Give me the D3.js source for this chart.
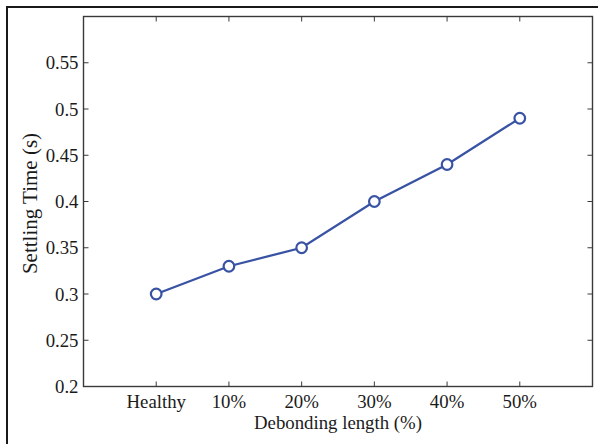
<!DOCTYPE html>
<html><head><meta charset="utf-8">
<script src="https://cdn.jsdelivr.net/npm/d3@7"></script>
<style>body{margin:0;background:#fff}svg{display:block}</style>
</head><body>
<svg id="c" width="598" height="444"></svg>
<script>
const categories = ["Healthy","10%","20%","30%","40%","50%"];
const settlingTime = [0.30, 0.33, 0.35, 0.40, 0.44, 0.49];
const yTicks = [0.2,0.25,0.3,0.35,0.4,0.45,0.5,0.55];
const yLabels = ["0.2","0.25","0.3","0.35","0.4","0.45","0.5","0.55"];
const xLabel = "Debonding length (%)";
const yLabel = "Settling Time (s)";

const svg = d3.select("#c");
const L=83.5, R=592.5, T=16.5, B=386.5;
const font = "'Liberation Serif','Times New Roman',serif";
const fs = 18.8;
const axisCol = "#3a3a3a";
const lineCol = "#3953a4";

// outer frame (top and left)
svg.append("path").attr("d","M7,444 V7 H598").attr("fill","none").attr("stroke","#1a1a1a").attr("stroke-width",2);

const x = d3.scaleLinear().domain([0, categories.length+1]).range([L,R]);
const y = d3.scaleLinear().domain([0.2,0.6]).range([B,T]);

const g = svg.append("g");
g.append("rect").attr("x",L).attr("y",T).attr("width",R-L).attr("height",B-T)
 .attr("fill","none").attr("stroke",axisCol).attr("stroke-width",1.4);

const tl = 5;
categories.forEach((c,i)=>{
  const xx = x(i+1);
  g.append("line").attr("x1",xx).attr("x2",xx).attr("y1",B).attr("y2",B-tl).attr("stroke",axisCol).attr("stroke-width",1);
  g.append("line").attr("x1",xx).attr("x2",xx).attr("y1",T).attr("y2",T+tl).attr("stroke",axisCol).attr("stroke-width",1);
  g.append("text").attr("x",xx).attr("y",408).attr("text-anchor","middle")
   .attr("font-family",font).attr("font-size",fs).attr("fill","#1a1a1a").text(c);
});
yTicks.forEach((v,i)=>{
  const yy = y(v);
  g.append("line").attr("x1",L).attr("x2",L+tl).attr("y1",yy).attr("y2",yy).attr("stroke",axisCol).attr("stroke-width",1);
  g.append("line").attr("x1",R).attr("x2",R-tl).attr("y1",yy).attr("y2",yy).attr("stroke",axisCol).attr("stroke-width",1);
  g.append("text").attr("x",L-5).attr("y",yy).attr("dy","0.35em").attr("text-anchor","end")
   .attr("font-family",font).attr("font-size",fs).attr("fill","#1a1a1a").text(yLabels[i]);
});

svg.append("text").attr("x",(L+R)/2).attr("y",429).attr("text-anchor","middle")
 .attr("font-family",font).attr("font-size",fs).attr("fill","#1a1a1a").text(xLabel);
svg.append("text").attr("transform",`translate(37,${(T+B)/2+2}) rotate(-90)`).attr("text-anchor","middle")
 .attr("font-family",font).attr("font-size",21).attr("fill","#1a1a1a").text(yLabel);

const line = d3.line().x((d,i)=>x(i+1)).y(d=>y(d));
svg.append("path").datum(settlingTime).attr("d",line).attr("fill","none")
 .attr("stroke",lineCol).attr("stroke-width",2.3);
svg.selectAll("circle.m").data(settlingTime).join("circle").attr("class","m")
 .attr("cx",(d,i)=>x(i+1)).attr("cy",d=>y(d)).attr("r",5.3)
 .attr("fill","#fff").attr("stroke",lineCol).attr("stroke-width",2.2);
</script>
</body></html>
